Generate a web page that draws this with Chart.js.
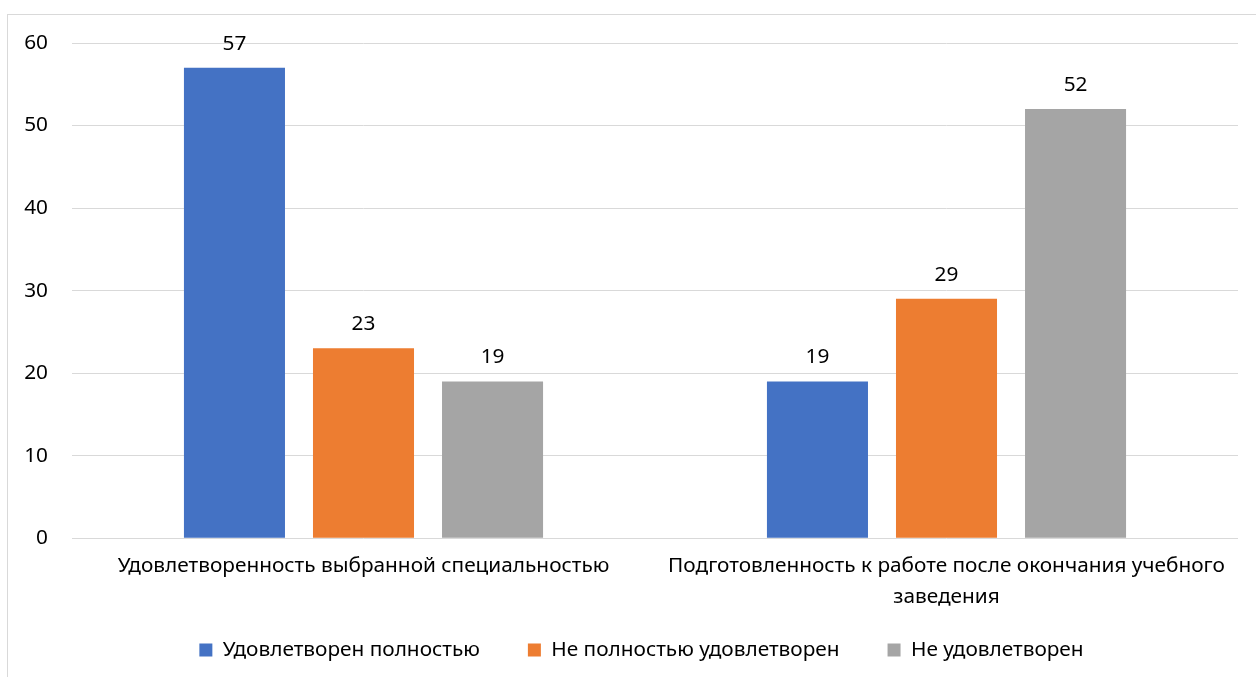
<!DOCTYPE html>
<html lang="ru">
<head>
    <meta charset="UTF-8">
    <title>Удовлетворенность</title>
    <script src="https://cdn.jsdelivr.net/npm/chart.js"></script>
    <style>
        html, body { margin: 0; padding: 0; background: #fff; }
        .frame { position: absolute; left: 7px; top: 14px; width: 1300px; height: 700px; border: 1px solid #d9d9d9; }
        .wrap { position: absolute; left: 0; top: 0; width: 1256px; height: 677px; }
    </style>
</head>
<body>
    <div class="frame"></div>
    <div class="wrap"><canvas id="myChart" width="1256" height="677"></canvas></div>

    <script>
        // Data
        const categories = [
            'Удовлетворенность выбранной специальностью',
            ['Подготовленность к работе после окончания учебного', 'заведения']
        ];
        const seriesNames = ['Удовлетворен полностью', 'Не полностью удовлетворен', 'Не удовлетворен'];
        const fullySatisfied = [57, 19];
        const partlySatisfied = [23, 29];
        const notSatisfied = [19, 52];
        const yTicks = [0, 10, 20, 30, 40, 50, 60];

        const colors = ['#4472C4', '#ED7D31', '#A5A5A5'];
        const fontFamily = '"Noto Sans", sans-serif';
        const fontSize = 20.8;

        // Simple value labels above bars
        const valueLabels = {
            id: 'valueLabels',
            afterDatasetsDraw(chart) {
                const ctx = chart.ctx;
                ctx.save();
                ctx.font = fontSize + 'px ' + fontFamily;
                ctx.fillStyle = '#000';
                ctx.textAlign = 'center';
                ctx.textBaseline = 'middle';
                chart.data.datasets.forEach((ds, i) => {
                    chart.getDatasetMeta(i).data.forEach((bar, j) => {
                        ctx.fillText(ds.data[j], bar.x, bar.y - 24);
                    });
                });
                ctx.restore();
            }
        };

        const ctx = document.getElementById('myChart').getContext('2d');
        const chart = new Chart(ctx, {
            type: 'bar',
            data: {
                labels: categories,
                datasets: [
                    { label: seriesNames[0], data: fullySatisfied, backgroundColor: colors[0] },
                    { label: seriesNames[1], data: partlySatisfied, backgroundColor: colors[1] },
                    { label: seriesNames[2], data: notSatisfied, backgroundColor: colors[2] }
                ]
            },
            options: {
                responsive: false,
                animation: false,
                layout: { padding: { top: 43, right: 18, bottom: 6.5, left: 0 } },
                datasets: { bar: { categoryPercentage: 0.664, barPercentage: 0.783 } },
                scales: {
                    x: {
                        grid: { display: false },
                        border: { display: false },
                        ticks: { color: '#000', font: { family: fontFamily, size: fontSize, lineHeight: 1.49 }, padding: 4, maxRotation: 0 },
                        afterFit(scale) { scale.height = 80.5; }
                    },
                    y: {
                        min: 0,
                        max: 60,
                        afterBuildTicks(scale) { scale.ticks = yTicks.map(v => ({ value: v })); },
                        grid: { color: '#d9d9d9', lineWidth: 1, drawTicks: false },
                        border: { display: false },
                        ticks: { color: '#000', font: { family: fontFamily, size: fontSize }, padding: 24 },
                        afterFit(scale) { scale.width = 72; }
                    }
                },
                plugins: {
                    legend: {
                        position: 'bottom',
                        fullSize: false,
                        labels: {
                            color: '#000',
                            font: { family: fontFamily, size: fontSize },
                            boxWidth: 13,
                            boxHeight: 13,
                            padding: 21,
                            // extra gap after every item
                            generateLabels(chart) {
                                const items = Chart.defaults.plugins.legend.labels.generateLabels(chart);
                                items.forEach(it => { it.text += '     '; });
                                return items;
                            }
                        }
                    },
                    tooltip: { enabled: false }
                }
            },
            plugins: [valueLabels]
        });
    </script>
</body>
</html>
